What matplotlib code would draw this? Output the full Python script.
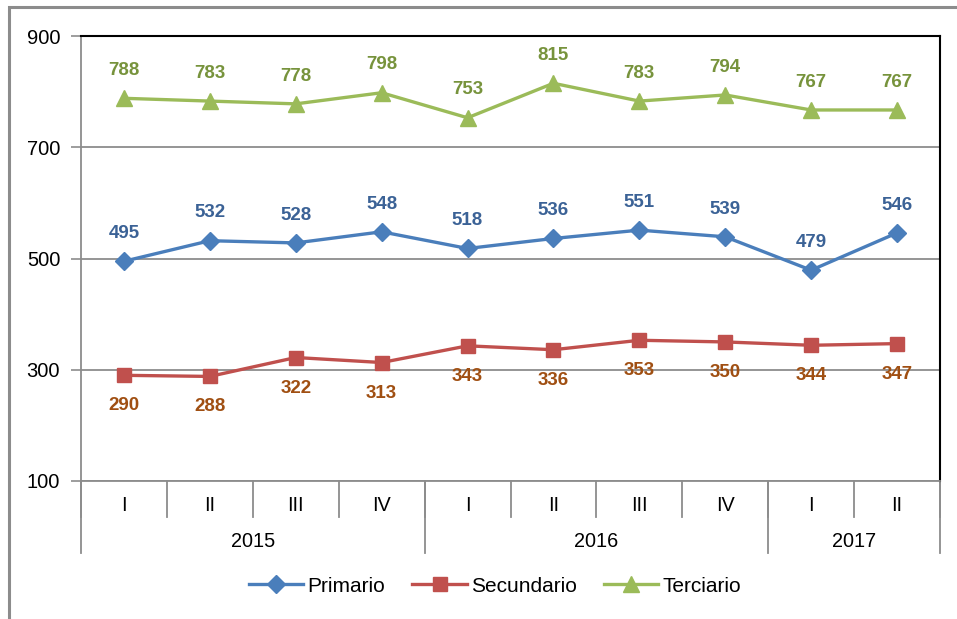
import matplotlib
matplotlib.use("Agg")
import matplotlib.pyplot as plt
from matplotlib.patches import Rectangle

plt.rcParams['font.family'] = ['Liberation Sans', 'DejaVu Sans']

quarters = ['I', 'II', 'III', 'IV', 'I', 'II', 'III', 'IV', 'I', 'II']
years = ['2015', '2016', '2017']
year_len = [4, 4, 2]

primario = [495, 532, 528, 548, 518, 536, 551, 539, 479, 546]
secundario = [290, 288, 322, 313, 343, 336, 353, 350, 344, 347]
terciario = [788, 783, 778, 798, 753, 815, 783, 794, 767, 767]

W, H = 957, 619
fig = plt.figure(figsize=(W / 100, H / 100), dpi=100)
ax = fig.add_axes([81 / W, 1 - 481 / H, (940 - 81) / W, (481 - 36) / H])

# outer frame (only left/top visible in the reference)
fig.patches.append(Rectangle((9 / W, -0.1), 1.2, 1 - 7 / H + 0.1, transform=fig.transFigure,
                             fill=False, edgecolor='#8c8c8c', lw=2.2, zorder=0))

x = list(range(len(quarters)))
series = [
    (primario, 'Primario', '#4a7ebb', 'D', 9, '#3b6296', 20),
    (secundario, 'Secundario', '#c0504d', 's', 10, '#a04f12', -22),
    (terciario, 'Terciario', '#9bbb59', '^', 11, '#77933c', 20),
]
for vals, name, col, mk, ms, lcol, off in series:
    ax.plot(x, vals, color=col, lw=2.4, marker=mk, markersize=ms, label=name, zorder=3)
    for xi, v in zip(x, vals):
        ax.annotate(str(v), (xi, v), xytext=(0, off), textcoords='offset points',
                    ha='center', va='center', color=lcol, fontsize=13.5, fontweight='bold')

ax.set_xlim(-0.5, len(quarters) - 0.5)
ax.set_ylim(100, 900)
ax.set_yticks([100, 300, 500, 700, 900])
ax.tick_params(axis='y', labelsize=14.5, color='#8c8c8c', length=7, width=1.2, pad=8)
ax.set_xticks([])
ax.grid(axis='y', color='#8c8c8c', lw=1.3)
ax.set_axisbelow(True)

for s in ['top', 'right']:
    ax.spines[s].set_color('black')
    ax.spines[s].set_linewidth(1.5)
for s in ['left', 'bottom']:
    ax.spines[s].set_color('#8c8c8c')
    ax.spines[s].set_linewidth(1.3)

# multi-level category axis
tr = ax.get_xaxis_transform()
for i, q in enumerate(quarters):
    ax.text(i, -0.054, q, transform=tr, ha='center', va='center', fontsize=14.3)
for i in range(len(quarters) + 1):
    ax.plot([i - 0.5, i - 0.5], [0, -0.081], transform=tr, color='#8c8c8c', lw=1.3, clip_on=False)
start = 0
for yr, n in zip(years, year_len):
    ax.text(start + n / 2 - 0.5, -0.135, yr, transform=tr, ha='center', va='center', fontsize=14.3)
    ax.plot([start - 0.5, start - 0.5], [0, -0.162], transform=tr, color='#8c8c8c', lw=1.3, clip_on=False)
    start += n
ax.plot([start - 0.5, start - 0.5], [0, -0.162], transform=tr, color='#8c8c8c', lw=1.3, clip_on=False)

fig.legend(loc='center', bbox_to_anchor=(495 / W, 1 - 586 / H), ncol=3, frameon=False,
           fontsize=15, handlelength=2.6, columnspacing=1.3, handletextpad=0.2)

fig.savefig('out.png', dpi=100)
